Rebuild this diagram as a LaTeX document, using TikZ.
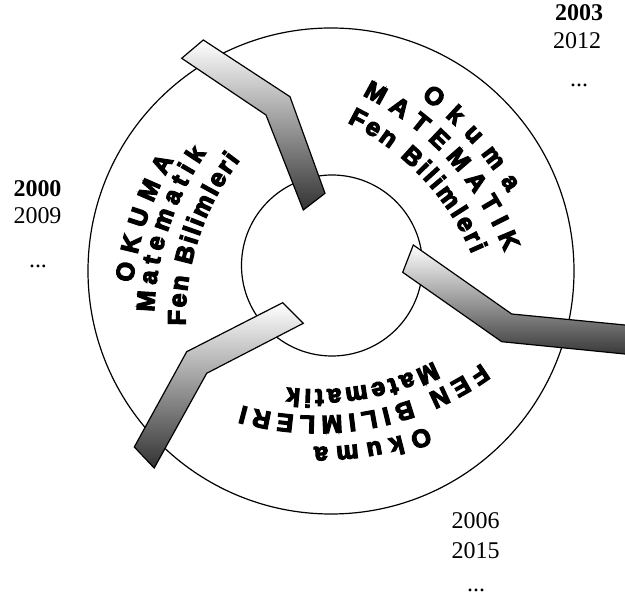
\documentclass[tikz,border=0pt]{standalone}
\usepackage{fontspec}
\setmainfont{Liberation Serif}
\setsansfont{Liberation Sans}
\newfontfamily\arcfam{Liberation Sans}[BoldFeatures={FakeBold=5}]
\usetikzlibrary{decorations.text}
\newcommand\arcfont{\fontsize{25}{29}\selectfont\arcfam\bfseries}
\newcommand\yrfont{\fontsize{24}{28}\selectfont}

\begin{document}
\begin{tikzpicture}[x=1pt,y=1pt,
        ring/.style={draw,line width=1.2pt},
        bar/.style={draw,line width=1.2pt,line join=miter,top color=white,bottom color=black!80},
        arctext/.style={decorate,decoration={text along path,text align=fit to path,text={|\arcfont|#1}}},
        yr/.style={font=\yrfont,inner sep=0pt}]
        \path[use as bounding box,clip] (0,0) rectangle (625,598);

        \coordinate (o) at (331,327);
        \coordinate (i) at (332,332.5);
        \coordinate (l) at (447.5,277.9);
        \coordinate (r) at (232.6,242.3);
        \coordinate (d) at (317.4,464);

        \draw[ring] (o) circle[radius=243];
        \draw[ring] (i) circle[radius=90.5];

        \path[arctext=OKUMA] ([shift={(173.2:317)}]l) arc[start angle=173.2,end angle=149.7,radius=317];
        \path[arctext=Matematik] ([shift={(178.4:293.5)}]l) arc[start angle=178.4,end angle=145.3,radius=293.5];
        \path[arctext=Fen Bilimleri] ([shift={(181.15:262)}]l) arc[start angle=181.15,end angle=142.35,radius=262];

        \path[arctext=Okuma] ([shift={(53.9:320)}]r) arc[start angle=53.9,end angle=30.7,radius=320];
        \path[arctext=MATEMATIK] ([shift={(63.5:291)}]r) arc[start angle=63.5,end angle=20.9,radius=291];
        \path[arctext=Fen Bilimleri] ([shift={(63.8:260)}]r) arc[start angle=63.8,end angle=23.05,radius=260];

        \path[arctext=Okuma] ([shift={(290.6:313)}]d) arc[start angle=290.6,end angle=269.4,radius=313];
        \path[arctext=FEN BILIMLERI] ([shift={(305.6:282)}]d) arc[start angle=305.6,end angle=254.5,radius=282];
        \path[arctext=Matematik] ([shift={(297.1:255.5)}]d) arc[start angle=297.1,end angle=263.2,radius=255.5];

        \shadedraw[bar] (181.7,539.7) -- (203.3,558) -- (290,501.3) -- (325,404.7) -- (303.3,388) -- (266,483) -- cycle;
        \shadedraw[bar] (413.3,353) -- (511.7,284) -- (660,269.6) -- (660,240.5) -- (501.7,256.3) -- (402.7,325.7) -- cycle;
        \shadedraw[bar] (282.7,295.3) -- (303.3,274.7) -- (206.7,224.7) -- (154.2,130) -- (134.3,151) -- (186.7,246.3) -- cycle;

        \node[yr,font=\yrfont\bfseries] (0) at (579,585.5) {2003};
        \node[yr] (1) at (577,557.5) {2012};
        \node[yr] (2) at (579,513) {...};

        \node[yr,font=\yrfont\bfseries] (3) at (37.5,409) {2000};
        \node[yr] (4) at (37.5,382) {2009};
        \node[yr] (5) at (38,332) {...};

        \node[yr] (6) at (475.5,77.5) {2006};
        \node[yr] (7) at (475.5,47) {2015};
        \node[yr] (8) at (476,8) {...};
\end{tikzpicture}
\end{document}
